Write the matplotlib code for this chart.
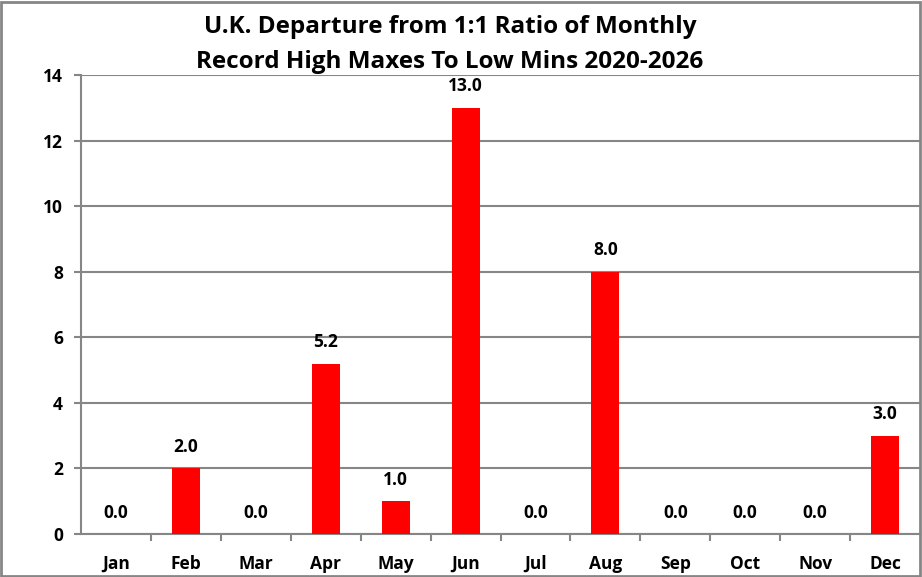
import matplotlib
matplotlib.use("Agg")
import matplotlib.pyplot as plt
import numpy as np
from matplotlib.patches import Rectangle

months = ["Jan", "Feb", "Mar", "Apr", "May", "Jun",
          "Jul", "Aug", "Sep", "Oct", "Nov", "Dec"]
departure = [0.0, 2.0, 0.0, 5.2, 1.0, 13.0, 0.0, 8.0, 0.0, 0.0, 0.0, 3.0]
y_ticks = [0, 2, 4, 6, 8, 10, 12, 14]

plt.rcParams["font.family"] = ["Open Sans", "DejaVu Sans"]
plt.rcParams["font.weight"] = "bold"

W, H = 922, 577
fig = plt.figure(figsize=(W / 100, H / 100), dpi=100)
ax = fig.add_axes([81 / W, 1 - 534 / H, 839 / W, 459 / H])

grid_c = "#868686"
x = np.arange(len(months))
ax.bar(x, departure, width=0.4, color="#ff0000", zorder=3)

for xi, v in zip(x, departure):
    ax.annotate(f"{v:.1f}", (xi, v), textcoords="offset points", xytext=(0, 9),
                ha="center", va="bottom", fontsize=12.5, fontweight="bold")

ax.set_xlim(-0.5, len(months) - 0.5)
ax.set_ylim(0, 14)
ax.set_yticks(y_ticks)
ax.set_yticklabels([str(t) for t in y_ticks], fontsize=12.5, fontweight="bold")
ax.set_xticks(x)
ax.set_xticklabels(months, fontsize=12.5, fontweight="bold")
ax.tick_params(axis="x", which="major", length=0, pad=15)
ax.set_xticks(np.arange(0.5, len(months) - 0.5, 1), minor=True)
ax.tick_params(axis="x", which="minor", length=5, width=1.5, color=grid_c, direction="out")
ax.tick_params(axis="y", length=5, width=1.5, color=grid_c, pad=8)

ax.yaxis.grid(True, color=grid_c, linewidth=1.5, zorder=0)
ax.set_axisbelow(True)
for s in ["top", "right"]:
    ax.spines[s].set_visible(False)
for s in ["left", "bottom"]:
    ax.spines[s].set_color(grid_c)
    ax.spines[s].set_linewidth(1.5)

fig.text(450 / W, 1 - 27 / H, "U.K. Departure from 1:1 Ratio of Monthly",
         ha="center", va="center", fontsize=17.5, fontweight="bold")
fig.text(450 / W, 1 - 62 / H, "Record High Maxes To Low Mins 2020-2026",
         ha="center", va="center", fontsize=17.5, fontweight="bold")

fig.patches.append(Rectangle((1 / W, 1 / H), 1 - 3 / W, 1 - 3 / H,
                             transform=fig.transFigure, fill=False,
                             edgecolor=grid_c, linewidth=2))

fig.savefig("out.png", dpi=100)
